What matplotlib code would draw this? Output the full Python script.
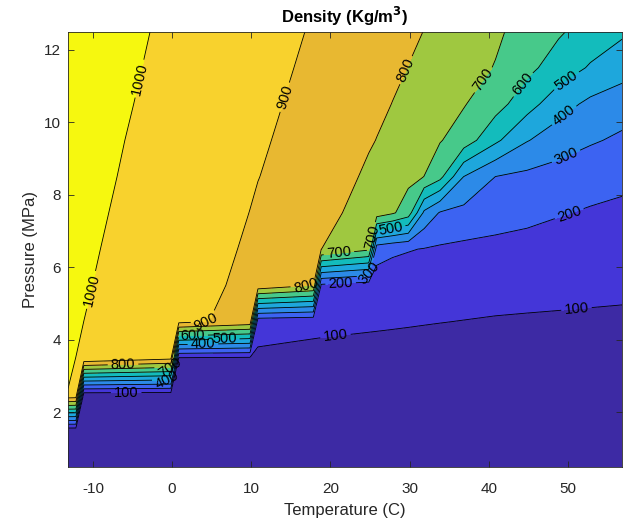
import numpy as np
import matplotlib
matplotlib.use("Agg")
import matplotlib.pyplot as plt

# Temperature grid (deg C) and pressure grid (MPa)
temperature = [-13.15, -12.15, -11.15, -0.15, 0.85, 9.85, 10.85, 17.85, 18.85,
               24.85, 25.85, 27.85, 29.85, 31.85, 33.85, 36.85, 40.85, 44.85,
               48.85, 52.85, 56.85]
pressure = [0.5, 1.5, 2.5, 3.5, 4.5, 5.5, 6.5, 7.5, 8.5, 9.5, 10.5, 11.5, 12.5]

# CO2 density (kg/m^3), one row per pressure
density = [
    [10.7, 10.6, 10.5, 10.1, 10.0, 9.7, 9.6, 9.4, 9.4, 9.2, 9.1, 9.1, 9.0, 8.9, 8.9, 8.8, 8.6, 8.5, 8.4, 8.3, 8.2],
    [35.5, 35.3, 35.0, 33.0, 32.8, 31.4, 31.3, 30.3, 30.2, 29.5, 29.4, 29.1, 28.9, 28.7, 28.5, 28.2, 27.8, 27.4, 27.0, 26.6, 26.2],
    [999.0, 993.6, 64.5, 59.5, 59.1, 56.0, 55.7, 53.6, 53.3, 51.8, 51.5, 51.0, 50.5, 50.0, 49.5, 48.8, 48.0, 47.2, 46.4, 45.6, 44.9],
    [1005.5, 999.8, 994.0, 928.2, 95.5, 87.5, 86.5, 80.0, 79.2, 75.8, 75.3, 74.4, 73.5, 72.6, 71.7, 70.5, 69.0, 67.5, 66.2, 65.0, 63.8],
    [1012.0, 1005.9, 999.9, 933.3, 927.3, 863.0, 131.0, 118.0, 116.5, 110.0, 109.0, 107.0, 105.0, 103.0, 101.2, 98.8, 95.8, 93.8, 92.0, 90.0, 88.0],
    [1018.0, 1012.1, 1006.2, 942.3, 936.4, 881.3, 871.2, 801.0, 182.0, 150.0, 147.0, 141.0, 136.0, 132.0, 128.5, 126.0, 122.0, 120.0, 118.0, 116.0, 114.0],
    [1023.6, 1017.8, 1012.1, 948.6, 942.8, 890.9, 880.9, 810.6, 800.5, 716.0, 243.0, 218.0, 206.0, 196.0, 188.0, 178.0, 168.0, 160.0, 153.0, 147.0, 142.0],
    [1029.1, 1023.4, 1017.8, 955.6, 950.0, 899.2, 890.9, 832.5, 824.1, 770.0, 755.0, 712.0, 650.0, 380.0, 292.0, 272.0, 250.0, 229.5, 206.6, 191.0, 180.0],
    [1034.3, 1028.8, 1023.3, 962.3, 956.8, 906.9, 901.4, 862.2, 851.6, 785.8, 773.5, 748.8, 724.1, 699.4, 630.0, 400.0, 300.0, 278.0, 258.0, 240.0, 224.0],
    [1039.3, 1033.9, 1028.5, 968.0, 963.4, 914.6, 909.2, 871.3, 862.2, 807.7, 798.6, 775.1, 751.9, 728.7, 705.5, 655.0, 520.0, 405.0, 350.0, 310.0, 285.0],
    [1044.1, 1038.8, 1033.5, 975.0, 969.7, 921.9, 916.6, 879.4, 871.3, 822.9, 814.9, 798.8, 779.0, 758.0, 738.0, 706.0, 640.0, 540.0, 440.0, 378.0, 340.0],
    [1048.7, 1043.5, 1038.3, 981.0, 975.8, 928.9, 923.7, 887.2, 879.8, 835.7, 828.3, 813.6, 798.9, 780.0, 761.0, 733.0, 696.0, 625.0, 555.0, 490.0, 445.0],
    [1053.0, 1047.9, 1042.8, 986.6, 981.5, 935.5, 930.4, 894.6, 887.8, 846.8, 840.0, 826.3, 812.7, 799.0, 780.0, 751.0, 714.0, 667.2, 611.5, 560.0, 515.0],
]

levels = [0, 100, 200, 300, 400, 500, 600, 700, 800, 900, 1000, 1200]
band_colors = ["#3d2aa4", "#4436d8", "#3c63f2", "#2c8ae8", "#1ea7dc",
               "#13bcbc", "#47c98a", "#9fc840", "#e8b831", "#f8d22d", "#f6f80f"]

# (T, P) spots where the contour values are printed
label_spots = [(-10.7, 5.4), (-4.1, 11.2), (14.8, 10.65), (4.3, 4.47),
               (29.9, 11.4), (16.9, 5.47), (-6.2, 3.33), (39.1, 11.2),
               (21.1, 6.35), (45.2, 10.9), (50.1, 11.05), (50.1, 10.03),
               (49.9, 9.0), (50.1, 7.53), (21.3, 5.55), (51.1, 4.85),
               (20.7, 4.0), (-5.8, 2.54), (2.6, 4.11), (6.6, 3.99),
               (3.9, 3.87), (24.7, 5.87), (27.6, 7.05), (-0.6, 2.9),
               (-0.3, 3.2), (25.1, 6.84)]

plt.rcParams["font.family"] = ["Liberation Sans", "DejaVu Sans"]
plt.rcParams["axes.unicode_minus"] = False

T, P = np.meshgrid(np.array(temperature), np.array(pressure))
rho = np.array(density)

fig = plt.figure(figsize=(6.32, 5.24), dpi=100)
ax = fig.add_axes([68 / 632, 1 - 466.7 / 524, 554 / 632, 435.2 / 524])

ax.contourf(T, P, rho, levels=levels, colors=band_colors)
cs = ax.contour(T, P, rho, levels=levels[1:-1], colors="k", linewidths=0.6)
ax.clabel(cs, manual=label_spots, inline=True, fmt="%d", fontsize=10.5,
          inline_spacing=3, colors="k")

ax.set_xlim(-13.15, 56.85)
ax.set_ylim(0.5, 12.5)
ax.set_xticks([-10, 0, 10, 20, 30, 40, 50])
ax.set_yticks([2, 4, 6, 8, 10, 12])
ax.tick_params(direction="in", top=True, right=True, length=4, width=0.6,
               labelsize=11, colors="#262626")
ax.tick_params(axis="x", pad=11)
ax.tick_params(axis="y", pad=5)
for s in ax.spines.values():
    s.set_color("#262626")
    s.set_linewidth(0.6)

ax.set_xlabel("Temperature (C)", fontsize=12, color="#262626", labelpad=5)
ax.set_ylabel("Pressure (MPa)", fontsize=12, color="#262626")
ax.set_title("Density (Kg/m$^\\mathbf{3}$)", fontsize=12, fontweight="bold",
             color="black", pad=6)

fig.savefig("out.png", dpi=100)
